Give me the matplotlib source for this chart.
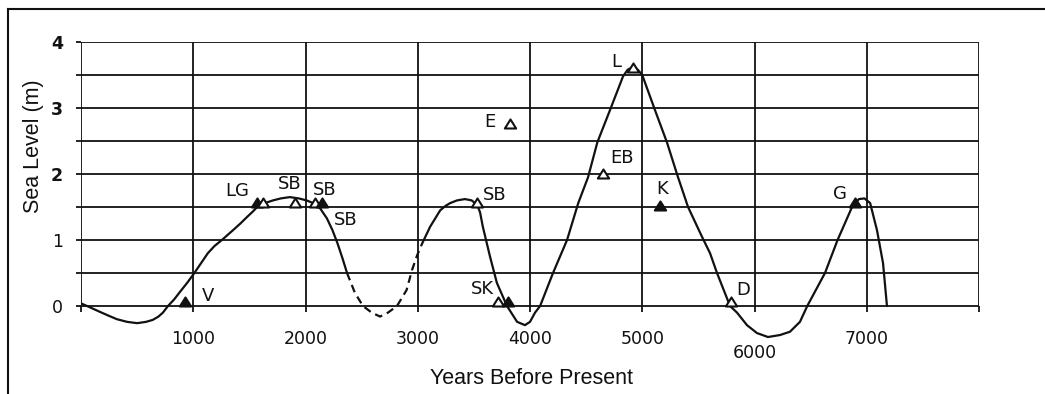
import matplotlib
matplotlib.use("Agg")
import matplotlib.pyplot as plt
from matplotlib.path import Path
from matplotlib.lines import Line2D
from matplotlib.transforms import ScaledTranslation

# ---------------- data ----------------
# solid curve, part 1
years_a = [0, 80, 170, 250, 320, 410, 500, 580, 640, 690, 730, 775, 830, 880, 950,
           1010, 1070, 1130, 1190, 1255, 1355, 1420, 1480, 1530, 1570, 1640, 1710,
           1780, 1860, 1940, 2010, 2080, 2130, 2190, 2240, 2285, 2330, 2370]
level_a = [0.04, -0.02, -0.09, -0.15, -0.20, -0.24, -0.26, -0.24, -0.21, -0.16, -0.10,
           0.0, 0.10, 0.21, 0.36, 0.50, 0.65, 0.80, 0.91, 1.00, 1.15, 1.25, 1.35, 1.43,
           1.50, 1.56, 1.60, 1.63, 1.65, 1.63, 1.60, 1.55, 1.48, 1.33, 1.15, 0.95, 0.72, 0.50]

# dashed (uncertain) part
years_dash = [2370, 2440, 2512, 2590, 2664, 2735, 2815, 2900, 2950, 2995, 3040]
level_dash = [0.50, 0.20, 0.0, -0.10, -0.16, -0.10, 0.0, 0.24, 0.55, 0.77, 0.95]

# solid curve, part 2
years_b = [3040, 3110, 3200, 3250, 3290, 3350, 3420, 3480, 3530, 3555, 3580, 3645,
           3705, 3795, 3885, 3955, 4000, 4045, 4090, 4205, 4330, 4430, 4517, 4600,
           4713, 4829, 4870, 4917, 4960, 5000, 5113, 5220, 5315, 5408, 5532, 5604,
           5666, 5782, 5844, 5933, 6022, 6120, 6227, 6316, 6405, 6470, 6628, 6740,
           6869, 6930, 6980, 7030, 7091, 7145, 7180]
level_b = [0.95, 1.20, 1.45, 1.52, 1.56, 1.60, 1.62, 1.60, 1.53, 1.42, 1.20, 0.74,
           0.35, 0.0, -0.24, -0.29, -0.24, -0.10, 0.0, 0.50, 1.00, 1.56, 1.95, 2.48,
           2.97, 3.48, 3.58, 3.62, 3.58, 3.50, 2.97, 2.48, 1.97, 1.50, 1.05, 0.80,
           0.50, 0.0, -0.10, -0.29, -0.41, -0.47, -0.44, -0.39, -0.24, 0.0, 0.50, 1.00,
           1.50, 1.62, 1.63, 1.56, 1.15, 0.65, 0.0]

# dated sites (triangles)
site_names = ["V", "LG", "", "SB", "SB", "SB", "SB", "SK", "", "E", "L", "EB", "K", "D", "G"]
site_years = [925, 1568, 1621, 1906, 2085, 2147, 3528, 3715, 3804, 3822, 4917, 4650, 5158, 5790, 6895]
site_level = [0.0, 1.50, 1.50, 1.50, 1.50, 1.50, 1.50, 0.0, 0.0, 2.70, 3.55, 1.94, 1.45, 0.0, 1.50]
site_filled = [True, True, False, False, False, True, False, False, True, False, False, False, True, False, True]

x_ticks = [0, 1000, 2000, 3000, 4000, 5000, 6000, 7000, 8000]
x_tick_labels = ["", "1000", "2000", "3000", "4000", "5000", "6000", "7000", ""]
y_ticks = [0, 1, 2, 3, 4]
y_tick_labels = ["0", "1", "2", "3", "4"]

# ---------------- layout / style ----------------
# label offsets (points) from each triangle
label_offsets = [(16.6, 7.5), (-14.4, 11.5), (0, 0), (-3.6, 16.6), (7.2, 12.2),
                 (17.3, -9.4), (13.0, 8.6), (-11.5, 12.2), (0, 0), (-14.4, 4.3),
                 (-12.2, 7.2), (13.7, 14.4), (1.4, 15.0), (8.6, 11.5), (-10.8, 9.4)]

W, H = 1045, 394
fig = plt.figure(figsize=(W / 100, H / 100), dpi=100)
fig.patch.set_facecolor("white")

ax_left, ax_right, ax_top, ax_bottom = 81, 979, 42, 345.6
ax = fig.add_axes([ax_left / W, (H - ax_bottom) / H,
                   (ax_right - ax_left) / W, (ax_bottom - ax_top) / H])
ax.set_xlim(0, 8000)
ax.set_ylim(-0.6, 4)
ax.patch.set_alpha(0)
for s in ["top", "right", "left"]:
    ax.spines[s].set_visible(False)
ax.spines["bottom"].set_position(("data", 0))
ax.spines["bottom"].set_visible(False)

ink = "#111111"
grid_lw = 1.3
ax.hlines([0, 0.5, 1, 1.5, 2, 2.5, 3, 3.5, 4], 0, 8000, colors=ink, lw=grid_lw, zorder=1)
ax.vlines(x_ticks, 0, 4, colors=ink, lw=grid_lw, zorder=1)

ax.set_xticks(x_ticks)
ax.set_xticklabels(x_tick_labels)
ax.set_yticks(y_ticks)
ax.set_yticklabels(y_tick_labels)
ax.set_yticks([0.5, 1.5, 2.5, 3.5], minor=True)
ax.tick_params(axis="x", which="major", direction="out", length=4.5, width=grid_lw,
               color=ink, labelsize=12.5, pad=13, labelcolor=ink)
ax.tick_params(axis="y", which="both", direction="out", length=3.8, width=grid_lw,
               color=ink, labelsize=12.5, pad=9, labelcolor=ink)
for lbl in ax.get_yticklabels():
    if lbl.get_text() in ("2", "3", "4"):
        lbl.set_fontweight("bold")
for lbl in ax.get_xticklabels():
    if lbl.get_text() == "6000":
        lbl.set_transform(lbl.get_transform() + ScaledTranslation(0, -10 / 72, fig.dpi_scale_trans))

# curves
ax.plot(years_a, level_a, color=ink, lw=1.6, zorder=3, solid_capstyle="round",
        solid_joinstyle="round")
ax.plot(years_dash, level_dash, color=ink, lw=1.6, ls=(0, (3.5, 2.3)), zorder=3)
ax.plot(years_b, level_b, color=ink, lw=1.6, zorder=3, solid_capstyle="round",
        solid_joinstyle="round")

# triangle marker sitting on its point
tri = Path([(-0.5, 0), (0.5, 0), (0, 0.8), (-0.5, 0)],
           [Path.MOVETO, Path.LINETO, Path.LINETO, Path.CLOSEPOLY])
for name, yr, lv, filled, off in zip(site_names, site_years, site_level, site_filled, label_offsets):
    ax.plot([yr], [lv], marker=tri, markersize=13, ls="none",
            markerfacecolor=ink if filled else "white", markeredgecolor=ink,
            markeredgewidth=1.5, zorder=5)
    if name:
        ax.annotate(name, (yr, lv), xytext=off, textcoords="offset points",
                    ha="center", va="center", fontsize=13, color=ink, zorder=6)

# axis titles
ax.set_xlabel("Years Before Present", fontsize=15.5, family="Liberation Sans", color=ink)
ax.xaxis.label.set_va("center")
ax.xaxis.set_label_coords((532 - ax_left) / (ax_right - ax_left),
                          (ax_bottom - 378) / (ax_bottom - ax_top))
ax.set_ylabel("Sea Level (m)", fontsize=15.5, family="Liberation Sans", color=ink)
ax.yaxis.label.set_va("center")
ax.yaxis.set_label_coords((34 - ax_left) / (ax_right - ax_left),
                          (ax_bottom - 146) / (ax_bottom - ax_top))

# page frame (top and left rules of the scanned page)
fig.add_artist(Line2D([8 / W, 1], [1 - 8.5 / H, 1 - 8.5 / H], transform=fig.transFigure,
                      color=ink, lw=1.5))
fig.add_artist(Line2D([8 / W, 8 / W], [0, 1 - 8.5 / H], transform=fig.transFigure,
                      color=ink, lw=1.5))

fig.savefig("out.png", dpi=100, facecolor="white")
